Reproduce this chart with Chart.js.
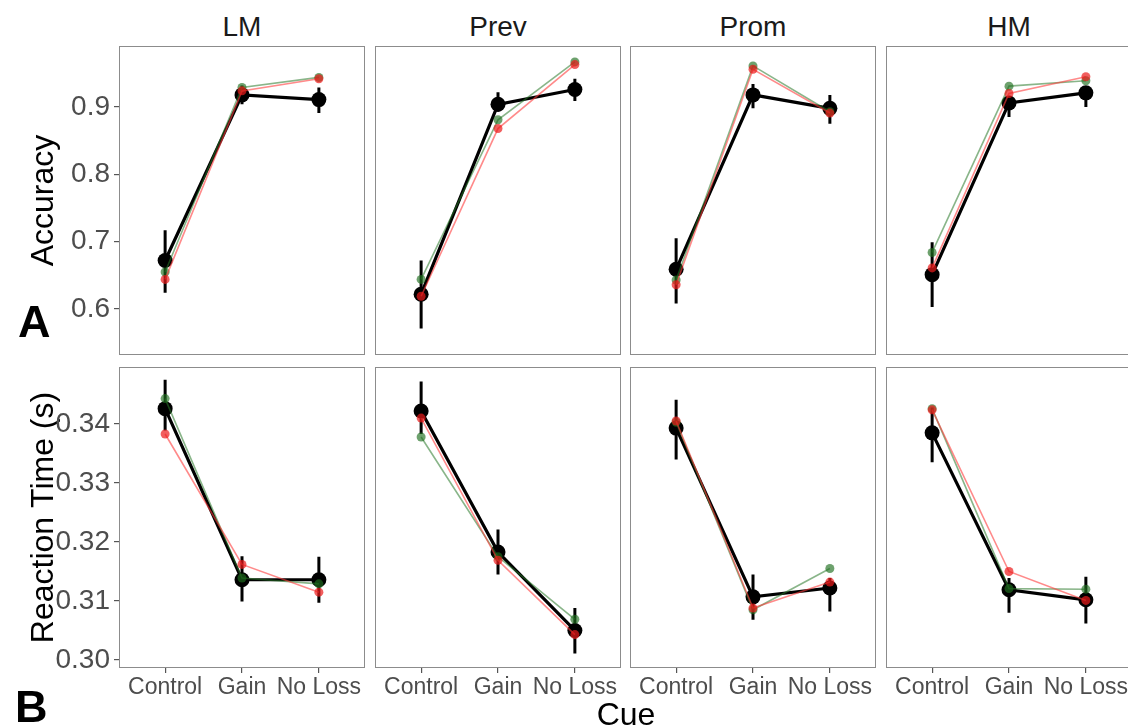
<!DOCTYPE html>
<html><head><meta charset="utf-8">
<script src="https://cdn.jsdelivr.net/npm/chart.js@4.4.1/dist/chart.umd.min.js"></script>
<style>
html,body{margin:0;padding:0;width:1128px;height:727px;overflow:hidden;background:#fff;font-family:"Liberation Sans",Arial,sans-serif;position:relative;}
canvas{position:absolute;}
.t{position:absolute;white-space:nowrap;color:#000;}
</style></head><body>
<script>
// ---------- data ----------
const cues = ['Control', 'Gain', 'No Loss'];
const groups = ['LM', 'Prev', 'Prom', 'HM'];
const accTicks = [0.6, 0.7, 0.8, 0.9];
const accTickLabels = ['0.6', '0.7', '0.8', '0.9'];
const rtTicks = [0.30, 0.31, 0.32, 0.33, 0.34];
const rtTickLabels = ['0.30', '0.31', '0.32', '0.33', '0.34'];

// Accuracy (rows = groups LM, Prev, Prom, HM; cols = cues)
const accMean  = [[0.672, 0.918, 0.911], [0.622, 0.904, 0.926], [0.659, 0.918, 0.898], [0.651, 0.906, 0.921]];
const accLo    = [[0.624, 0.904, 0.891], [0.571, 0.893, 0.909], [0.608, 0.898, 0.875], [0.603, 0.885, 0.900]];
const accHi    = [[0.717, 0.932, 0.929], [0.672, 0.922, 0.942], [0.705, 0.934, 0.918], [0.699, 0.915, 0.930]];
const accGreen = [[0.655, 0.929, 0.944], [0.644, 0.881, 0.967], [0.643, 0.961, 0.893], [0.684, 0.931, 0.939]];
const accRed   = [[0.644, 0.924, 0.942], [0.619, 0.868, 0.963], [0.636, 0.956, 0.891], [0.661, 0.920, 0.945]];

// Reaction time (s)
const rtMean  = [[0.3426, 0.3136, 0.3136], [0.3422, 0.3183, 0.3050], [0.3393, 0.3107, 0.3122], [0.3385, 0.3119, 0.3102]];
const rtLo    = [[0.3389, 0.3099, 0.3097], [0.3383, 0.3145, 0.3011], [0.3340, 0.3068, 0.3082], [0.3335, 0.3080, 0.3062]];
const rtHi    = [[0.3475, 0.3176, 0.3175], [0.3472, 0.3221, 0.3088], [0.3441, 0.3145, 0.3139], [0.3428, 0.3139, 0.3141]];
const rtGreen = [[0.3443, 0.3139, 0.3129], [0.3378, 0.3175, 0.3069], [0.3403, 0.3085, 0.3155], [0.3426, 0.3121, 0.3120]];
const rtRed   = [[0.3383, 0.3162, 0.3115], [0.3410, 0.3169, 0.3043], [0.3405, 0.3088, 0.3132], [0.3424, 0.3150, 0.3101]];

// ---------- layout ----------
const FONT = '"Liberation Sans", Arial, sans-serif';
const colL = [119, 375, 630, 886];
const panelW = 246;
const rowT = [46, 367];
const rowH = [309, 301];
const xAxisH = 40;

const rows = [
  { mean: accMean, lo: accLo, hi: accHi, green: accGreen, red: accRed, ticks: accTicks, labels: accTickLabels, min: 0.5317, max: 0.9906, title: 'Accuracy' },
  { mean: rtMean, lo: rtLo, hi: rtHi, green: rtGreen, red: rtRed, ticks: rtTicks, labels: rtTickLabels, min: 0.29864, max: 0.34966, title: 'Reaction Time (s)' }
];

const framePlugin = {
  id: 'frame',
  afterDraw(chart) {
    const { ctx, chartArea: a } = chart;
    ctx.save();
    ctx.strokeStyle = '#8c8c8c';
    ctx.lineWidth = 1;
    ctx.strokeRect(a.left + 0.5, a.top + 0.5, a.right - a.left - 1, a.bottom - a.top - 1);
    ctx.restore();
  }
};

function pts(arr) { return arr.map((v, i) => ({ x: i + 1, y: v })); }
function errPts(lo, hi) {
  const out = [];
  lo.forEach((v, i) => { out.push({ x: i + 1, y: v }, { x: i + 1, y: hi[i] }, { x: i + 1, y: null }); });
  return out;
}

function makePanel(r, c) {
  const R = rows[r];
  const isLeft = c === 0, isBottom = r === 1;
  const axisW = isLeft ? colL[0] : 0;
  const axisH = isBottom ? xAxisH : 0;
  const cv = document.createElement('canvas');
  const w = panelW + axisW, h = rowH[r] + axisH;
  cv.width = w; cv.height = h;
  cv.style.width = w + 'px'; cv.style.height = h + 'px';
  cv.style.left = (colL[c] - axisW) + 'px';
  cv.style.top = rowT[r] + 'px';
  document.body.appendChild(cv);

  new Chart(cv.getContext('2d'), {
    type: 'line',
    data: {
      datasets: [
        { data: pts(R.red[c]), borderColor: 'rgba(255,60,60,0.6)', borderWidth: 1.6,
          pointRadius: 4.5, pointBackgroundColor: 'rgba(235,25,25,0.7)', pointBorderWidth: 0 },
        { data: pts(R.green[c]), borderColor: 'rgba(40,120,40,0.55)', borderWidth: 1.6,
          pointRadius: 4.5, pointBackgroundColor: 'rgba(30,110,30,0.65)', pointBorderWidth: 0 },
        { data: errPts(R.lo[c], R.hi[c]), borderColor: '#000', borderWidth: 3, pointRadius: 0, spanGaps: false },
        { data: pts(R.mean[c]), borderColor: '#000', borderWidth: 3.2,
          pointRadius: 7.5, pointBackgroundColor: '#000', pointBorderWidth: 0 }
      ]
    },
    options: {
      responsive: false, animation: false, devicePixelRatio: 1, events: [],
      layout: { padding: 0, autoPadding: false },
      plugins: { legend: { display: false }, tooltip: { enabled: false } },
      scales: {
        x: {
          type: 'linear', min: 0.4, max: 3.6, display: isBottom, position: 'bottom',
          afterBuildTicks: s => { s.ticks = cues.map((_, i) => ({ value: i + 1 })); },
          ticks: { callback: (v, i) => cues[i], font: { size: 23, family: FONT }, color: '#4d4d4d',
                   padding: 1, maxRotation: 0, autoSkip: false },
          grid: { display: true, drawOnChartArea: false, drawTicks: true, tickLength: 5, tickColor: '#555', lineWidth: 1.2 },
          border: { display: false },
          afterFit: s => { if (isBottom) { s.height = xAxisH; } else { s.height = 0; } s.paddingLeft = 0; s.paddingRight = 0; s.paddingTop = 0; s.paddingBottom = 0; }
        },
        y: {
          type: 'linear', min: R.min, max: R.max, display: isLeft, position: 'left',
          afterBuildTicks: s => { s.ticks = R.ticks.map(v => ({ value: v })); },
          ticks: { callback: (v, i) => R.labels[i], font: { size: 28, family: FONT }, color: '#4d4d4d', padding: 4, autoSkip: false },
          grid: { display: true, drawOnChartArea: false, drawTicks: true, tickLength: 5, tickColor: '#555', lineWidth: 1.2 },
          border: { display: false },
          title: { display: isLeft, text: R.title, font: { size: 32, family: FONT }, color: '#000', padding: { top: 25, bottom: 0 } },
          afterFit: s => { s.width = axisW; s.paddingTop = 0; s.paddingBottom = 0; s.paddingLeft = 0; s.paddingRight = 0; }
        }
      }
    },
    plugins: [framePlugin]
  });
}

for (let r = 0; r < 2; r++) for (let c = 0; c < 4; c++) makePanel(r, c);

// text overlays
function addText(txt, css) {
  const d = document.createElement('div');
  d.className = 't';
  d.textContent = txt;
  Object.assign(d.style, css);
  document.body.appendChild(d);
  return d;
}
groups.forEach((g, c) => {
  addText(g, { left: (colL[c]) + 'px', width: panelW + 'px', textAlign: 'center', top: '13px',
               fontSize: '28px', lineHeight: '28px', color: '#1a1a1a' });
});
addText('Cue', { left: '0px', width: (colL[0] * 2 + 4 * panelW + 30) + 'px', textAlign: 'center', top: '698px', fontSize: '32px', lineHeight: '32px' });
addText('A', { left: '18px', top: '299px', fontSize: '45px', lineHeight: '45px', fontWeight: 'bold' });
addText('B', { left: '15px', top: '684px', fontSize: '45px', lineHeight: '45px', fontWeight: 'bold' });
</script>
</body></html>
